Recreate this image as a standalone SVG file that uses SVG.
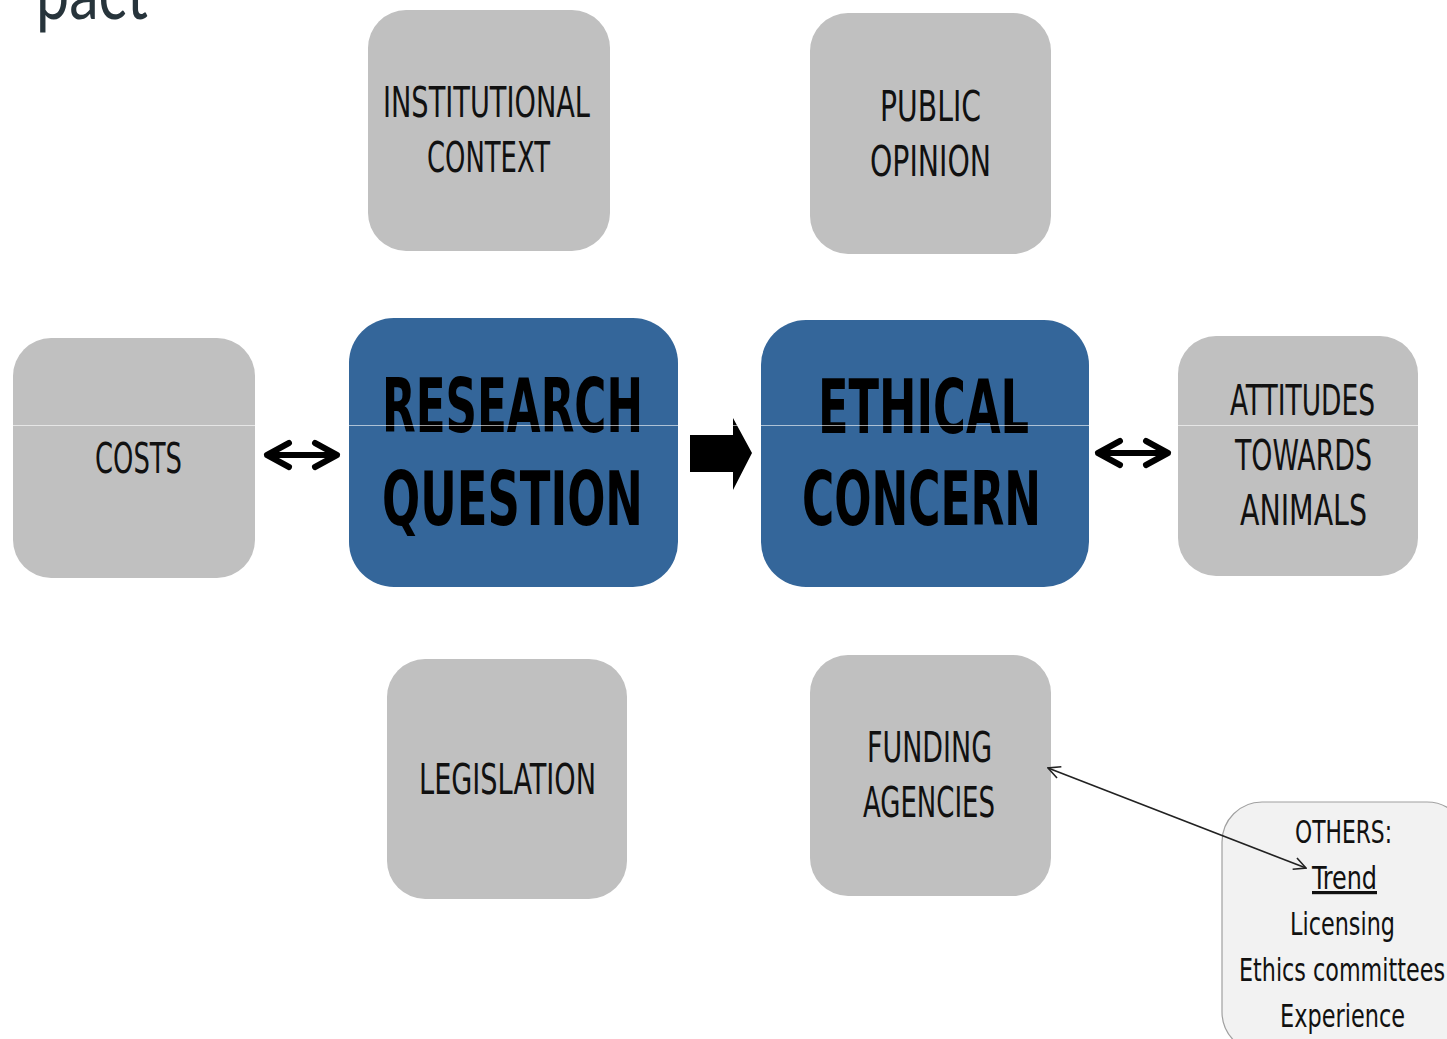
<svg xmlns="http://www.w3.org/2000/svg" width="1447" height="1039" viewBox="0 0 1447 1039">
<defs>
<style>
.box{fill:#c0c0c0;}
.core{fill:#34669a;}
.lbl{font-family:"Liberation Sans Narrow","DejaVu Sans Condensed","Liberation Sans",sans-serif;font-size:42px;fill:#111;}
.big{font-family:"Liberation Sans Narrow","DejaVu Sans Condensed","Liberation Sans",sans-serif;font-size:74px;font-weight:bold;fill:#000;}
.sm{font-family:"Liberation Sans Narrow","DejaVu Sans Condensed","Liberation Sans",sans-serif;font-size:32px;fill:#111;}
.dbl{fill:none;stroke:#000;stroke-width:6;stroke-linecap:round;stroke-linejoin:round;}
</style>
<marker id="open" viewBox="0 0 14 14" refX="13" refY="7" markerWidth="14" markerHeight="14" markerUnits="userSpaceOnUse" orient="auto-start-reverse">
<path d="M1,1 L13,7 L1,13" fill="none" stroke="#222" stroke-width="1.6"/>
</marker>
</defs>

<text x="36" y="19" font-family="Lato, 'Open Sans', sans-serif" font-weight="400" font-size="76" fill="#27343b" textLength="112" lengthAdjust="spacingAndGlyphs">pact</text>

<g id="institutional">
<rect class="box" x="368" y="10" width="242" height="241" rx="38"/>
<text class="lbl" x="383" y="117" textLength="207" lengthAdjust="spacingAndGlyphs">INSTITUTIONAL</text>
<text class="lbl" x="427" y="172" textLength="123" lengthAdjust="spacingAndGlyphs">CONTEXT</text>
</g>
<g id="public">
<rect class="box" x="810" y="13" width="241" height="241" rx="38"/>
<text class="lbl" x="880" y="121" textLength="101" lengthAdjust="spacingAndGlyphs">PUBLIC</text>
<text class="lbl" x="870" y="176" textLength="121" lengthAdjust="spacingAndGlyphs">OPINION</text>
</g>
<g id="costs">
<rect class="box" x="13" y="338" width="242" height="240" rx="38"/>
<text class="lbl" x="95" y="473" textLength="87" lengthAdjust="spacingAndGlyphs">COSTS</text>
</g>
<g id="research">
<rect class="core" x="349" y="318" width="329" height="269" rx="45"/>
<text class="big" x="382" y="432" textLength="261" lengthAdjust="spacingAndGlyphs">RESEARCH</text>
<text class="big" x="382" y="525" textLength="261" lengthAdjust="spacingAndGlyphs">QUESTION</text>
</g>
<g id="ethical">
<rect class="core" x="761" y="320" width="328" height="267" rx="45"/>
<text class="big" x="818" y="433" textLength="211" lengthAdjust="spacingAndGlyphs">ETHICAL</text>
<text class="big" x="802" y="525" textLength="239" lengthAdjust="spacingAndGlyphs">CONCERN</text>
</g>
<g id="attitudes">
<rect class="box" x="1178" y="336" width="240" height="240" rx="38"/>
<text class="lbl" x="1230" y="415" textLength="145" lengthAdjust="spacingAndGlyphs">ATTITUDES</text>
<text class="lbl" x="1235" y="470" textLength="137" lengthAdjust="spacingAndGlyphs">TOWARDS</text>
<text class="lbl" x="1240" y="525" textLength="127" lengthAdjust="spacingAndGlyphs">ANIMALS</text>
</g>
<g id="legislation">
<rect class="box" x="387" y="659" width="240" height="240" rx="38"/>
<text class="lbl" x="419" y="794" textLength="177" lengthAdjust="spacingAndGlyphs">LEGISLATION</text>
</g>
<g id="funding">
<rect class="box" x="810" y="655" width="241" height="241" rx="38"/>
<text class="lbl" x="867" y="762" textLength="125" lengthAdjust="spacingAndGlyphs">FUNDING</text>
<text class="lbl" x="863" y="817" textLength="132" lengthAdjust="spacingAndGlyphs">AGENCIES</text>
</g>
<g id="others">
<rect x="1222" y="802" width="245" height="250" rx="40" fill="#f2f2f2" stroke="#a0a0a0" stroke-width="1.2"/>
<text class="sm" x="1295" y="843" textLength="97" lengthAdjust="spacingAndGlyphs">OTHERS:</text>
<text class="sm" x="1312" y="889" textLength="65" lengthAdjust="spacingAndGlyphs" text-decoration="underline">Trend</text>
<text class="sm" x="1290" y="935" textLength="105" lengthAdjust="spacingAndGlyphs">Licensing</text>
<text class="sm" x="1239" y="981" textLength="206" lengthAdjust="spacingAndGlyphs">Ethics committees</text>
<text class="sm" x="1280" y="1027" textLength="125" lengthAdjust="spacingAndGlyphs">Experience</text>
</g>

<g id="connectors">
<path class="dbl" d="M267,455 L337,455 M289,443 L267,455 L289,467 M315,443 L337,455 L315,467"/>
<path class="dbl" d="M1098,453 L1168,453 M1120,441 L1098,453 L1120,465 M1146,441 L1168,453 L1146,465"/>
<polygon points="690,435 733,435 733,418 752,453 733,490 733,472 690,472" fill="#000"/>
<line x1="1048" y1="768" x2="1306" y2="868" stroke="#222" stroke-width="1.6" marker-start="url(#open)" marker-end="url(#open)"/>
</g>

<line x1="0" y1="425.5" x2="1447" y2="425.5" stroke="#ffffff" stroke-opacity="0.6" stroke-width="1"/>
</svg>
